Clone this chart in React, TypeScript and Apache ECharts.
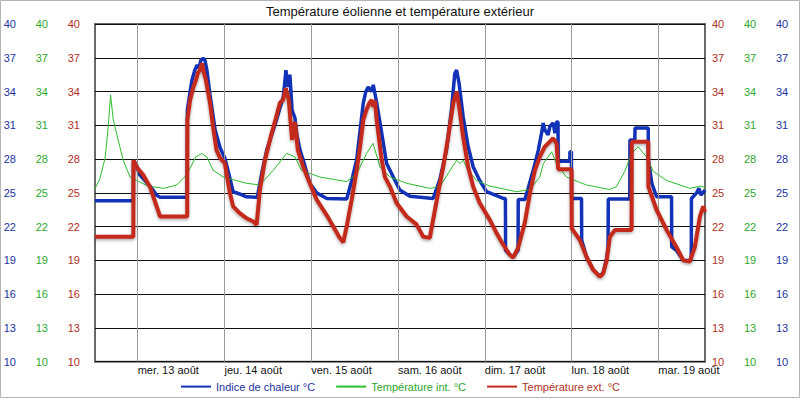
import React, { useEffect, useRef } from "react";
import * as echarts from "echarts";

const chartTitle = "Température éolienne et température extérieur";
const seriesNames = ["Indice de chaleur °C", "Température int. °C", "Température ext. °C"];
const dayLabels = ["mer. 13 août", "jeu. 14 août", "ven. 15 août", "sam. 16 août", "dim. 17 août", "lun. 18 août", "mar. 19 août"];
const dayStartHours = [0, 24, 48, 72, 96, 120, 144];
const hourMin = -11.8;
const hourMax = 156.9;
const tempMin = 10;
const tempMax = 40;
const tempStep = 3;

// [hours since 13 Aug 00:00, °C]
const heatIndex = [
  [-11.8, 24.3], [-1.2, 24.3], [-1.15, 27.9], [-0.3, 27.45], [0.6, 26.6], [3.4, 25.6], [5.25, 24.8], [6.2, 24.6],
  [13.7, 24.6], [13.75, 32.35], [14.5, 33.95], [15.0, 35.0], [15.8, 35.9], [16.4, 36.35], [16.95, 36.1], [17.5, 36.8],
  [18.1, 36.95], [18.6, 36.8], [19.15, 35.9], [20.0, 33.7], [21.4, 30.6], [22.8, 29.0], [24.1, 28.1], [25.5, 26.3],
  [26.4, 25.1], [28.2, 24.9], [30.1, 24.65], [33.1, 24.6], [34.3, 26.7], [35.7, 28.8], [36.6, 29.7], [38.4, 31.5],
  [39.35, 32.55], [40.3, 33.55], [41.0, 35.9], [41.6, 34.4], [42.1, 35.5], [42.7, 32.35], [43.5, 31.65], [44.05, 30.1],
  [44.9, 28.8], [45.8, 27.9], [47.6, 25.85], [49.5, 25.0], [52.3, 24.5], [57.8, 24.45], [59.2, 26.1], [60.55, 27.9],
  [61.0, 29.1], [62.4, 33.0], [63.1, 34.0], [63.75, 34.4], [64.7, 34.0], [65.15, 34.6], [66.1, 33.0], [67.5, 30.3],
  [68.85, 27.6], [70.7, 26.4], [72.5, 25.25], [75.3, 24.7], [81.7, 24.5], [83.6, 26.2], [85.4, 28.8], [86.8, 32.4],
  [87.7, 35.6], [88.2, 35.9], [88.9, 34.7], [90.0, 31.8], [91.4, 29.1], [92.8, 27.3], [94.6, 26.1], [96.5, 25.1],
  [101.1, 24.5], [101.7, 24.5], [101.75, 19.9], [102.9, 19.5], [103.85, 19.3], [105.2, 19.9], [105.25, 24.4], [107.1, 24.4],
  [108.0, 25.4], [109.4, 27.0], [110.8, 28.8], [111.7, 30.3], [112.15, 31.2], [112.6, 30.6], [113.5, 30.15], [114.0, 30.9],
  [114.9, 31.2], [115.4, 30.3], [115.85, 31.3], [116.25, 31.3], [116.3, 27.8], [119.5, 27.8], [119.55, 28.65], [119.95, 28.65],
  [120.0, 24.5], [122.75, 24.5], [122.8, 20.8], [124.15, 19.3], [126.0, 18.15], [127.8, 17.6], [128.75, 17.9], [129.7, 19.2],
  [130.1, 20.2], [130.15, 24.45], [136.1, 24.45], [136.15, 29.7], [137.5, 29.7], [137.55, 30.75], [141.2, 30.75], [141.25, 27.9],
  [142.2, 25.85], [143.5, 24.65], [147.65, 24.65], [147.7, 20.2], [149.0, 19.9], [150.9, 19.0], [153.1, 19.0], [153.15, 24.5],
  [154.6, 25.0], [155.2, 25.4], [155.75, 24.8], [156.9, 25.25],
];

const indoorTemp = [
  [-11.8, 25.4], [-10.5, 26.2], [-9.0, 28.1], [-8.1, 31.0], [-7.5, 33.7], [-6.75, 31.5], [-5.4, 29.7], [-4.0, 27.9],
  [-2.1, 26.4], [-0.3, 26.1], [2.9, 25.6], [7.1, 25.4], [10.8, 25.7], [13.55, 26.6], [16.1, 28.2], [17.7, 28.5],
  [19.1, 28.2], [20.9, 27.0], [23.7, 26.4], [30.1, 25.85], [33.8, 25.7], [37.5, 27.0], [41.2, 28.5], [43.5, 28.2],
  [45.3, 27.0], [50.4, 26.4], [57.8, 26.0], [60.6, 26.7], [63.3, 28.5], [65.1, 29.4], [67.0, 27.3], [69.8, 26.4],
  [74.4, 25.85], [80.8, 25.4], [83.6, 25.55], [86.4, 27.0], [88.2, 27.9], [89.1, 27.6], [90.0, 27.9], [91.4, 27.0],
  [93.7, 26.1], [97.4, 25.6], [104.8, 25.1], [108.5, 25.3], [111.2, 26.4], [112.2, 27.6], [114.5, 28.65], [115.9, 27.5],
  [118.6, 26.4], [124.1, 25.7], [130.5, 25.3], [132.4, 25.55], [134.7, 26.9], [136.6, 28.5], [138.4, 29.1], [140.7, 28.2],
  [142.6, 26.9], [146.3, 26.1], [152.7, 25.4], [155.5, 25.6], [156.9, 25.5],
];

const outdoorTemp = [
  [-11.8, 21.1], [-1.2, 21.1], [-1.15, 27.9], [-0.3, 27.3], [1.5, 26.6], [3.4, 25.55], [5.25, 23.8], [6.2, 22.9],
  [13.7, 22.9], [13.75, 31.5], [14.5, 33.25], [15.3, 34.3], [16.1, 35.0], [16.7, 35.7], [17.2, 35.9], [17.8, 36.5],
  [18.3, 35.7], [18.9, 35.0], [20.0, 33.0], [20.8, 31.0], [21.8, 28.8], [22.8, 28.1], [24.1, 27.65], [25.5, 25.0],
  [26.4, 23.8], [28.2, 23.2], [30.1, 22.75], [32.0, 22.45], [32.9, 22.15], [33.8, 25.25], [35.2, 27.9], [37.05, 30.3],
  [38.2, 31.6], [39.35, 33.0], [40.2, 33.25], [41.0, 34.3], [41.8, 33.25], [42.7, 29.7], [43.5, 31.3], [44.3, 28.8],
  [45.8, 27.3], [47.6, 25.85], [49.5, 24.4], [52.3, 23.0], [54.1, 22.0], [55.9, 21.0], [56.85, 20.6], [57.8, 22.0],
  [59.2, 24.4], [60.55, 27.0], [61.5, 29.1], [62.4, 31.5], [63.3, 32.4], [63.95, 32.9], [64.7, 33.25], [65.15, 32.65],
  [65.6, 33.2], [66.1, 31.5], [67.5, 27.9], [68.4, 26.4], [69.8, 25.55], [71.6, 24.1], [74.4, 22.9], [77.1, 22.2],
  [79.0, 21.1], [80.8, 21.0], [81.7, 22.6], [83.1, 25.0], [84.5, 27.3], [85.9, 30.0], [87.3, 33.0], [88.2, 34.0],
  [88.9, 32.65], [90.0, 30.0], [91.4, 27.3], [92.8, 25.55], [94.6, 24.1], [97.4, 22.6], [99.3, 21.4], [101.1, 20.4],
  [102.9, 19.5], [103.85, 19.25], [105.2, 20.1], [107.1, 22.4], [108.5, 25.0], [109.85, 27.0], [111.2, 28.2], [112.6, 29.1],
  [114.0, 29.55], [114.9, 29.85], [115.85, 29.4], [116.3, 27.1], [120.0, 27.1], [120.05, 21.85], [122.3, 20.8], [124.15, 19.3],
  [126.0, 18.15], [127.8, 17.55], [128.75, 17.85], [129.7, 19.0], [130.6, 21.1], [132.0, 21.7], [136.6, 21.7], [136.65, 29.55],
  [141.2, 29.55], [141.25, 25.55], [143.5, 23.5], [146.3, 21.7], [149.0, 20.2], [150.9, 19.0], [152.7, 18.9], [154.1, 20.2],
  [155.5, 22.9], [156.4, 23.8], [156.9, 23.3],
];

const FONT = "'Liberation Sans', Arial, sans-serif";
const BLUE = "#1232b8";
const GREEN = "#2dbd2d";
const RED = "#c42a1c";
const BLUE_TXT = "#22339e";
const GREEN_TXT = "#2ea82e";
const RED_TXT = "#b0301e";

const yAxisDefs = [
  { position: "left", margin: 79, color: BLUE_TXT },
  { position: "left", margin: 47, color: GREEN_TXT },
  { position: "left", margin: 15, color: RED_TXT },
  { position: "right", margin: 7, color: RED_TXT },
  { position: "right", margin: 39, color: GREEN_TXT },
  { position: "right", margin: 71, color: BLUE_TXT },
];

export default function App() {
  const ref = useRef<HTMLDivElement>(null);

  useEffect(() => {
    if (!ref.current) return;
    const chart = echarts.init(ref.current, null, { renderer: "svg" });
    const option: any = {
      animation: false,
      backgroundColor: "#ffffff",
      textStyle: { fontFamily: FONT },
      title: {
        text: chartTitle,
        left: "center",
        top: 0,
        padding: [5, 0, 0, 0],
        textStyle: { fontSize: 13, fontWeight: "normal", color: "#111", fontFamily: FONT },
      },
      legend: {
        left: "center",
        top: 376,
        itemWidth: 30,
        itemHeight: 14,
        itemGap: 20,
        itemStyle: { opacity: 0 },
        textStyle: { fontSize: 11, fontFamily: FONT },
        data: [
          { name: seriesNames[0], textStyle: { color: BLUE_TXT } },
          { name: seriesNames[1], textStyle: { color: GREEN_TXT } },
          { name: seriesNames[2], textStyle: { color: RED_TXT } },
        ],
      },
      grid: {
        left: 95,
        right: 95,
        top: 24,
        bottom: 36.3,
        show: true,
        borderColor: "#6a6a6a",
        borderWidth: 2,
        outerBoundsMode: "none",
      },
      graphic: [
        {
          type: "rect",
          shape: { x: 0.5, y: 0.5, width: 799, height: 397 },
          style: { fill: "none", stroke: "#b4b4b4", lineWidth: 1 },
          silent: true,
        },
      ],
      xAxis: {
        type: "value",
        min: hourMin,
        max: hourMax,
        axisLine: { show: false },
        axisTick: { show: false },
        splitLine: { show: false },
        axisLabel: {
          customValues: dayStartHours,
          formatter: (v: number) => dayLabels[dayStartHours.indexOf(Math.round(v))] ?? "",
          align: "left",
          margin: 3,
          fontSize: 11,
          color: "#111",
          fontFamily: FONT,
        },
      },
      yAxis: yAxisDefs.map((d, i) => ({
        type: "value",
        min: tempMin,
        max: tempMax,
        interval: tempStep,
        position: d.position,
        offset: 0,
        axisLine: { show: false },
        axisTick: { show: false },
        splitLine: { show: i === 0, lineStyle: { color: "#111", width: 1 } },
        axisLabel: { margin: d.margin, color: d.color, fontSize: 11, fontFamily: FONT },
      })),
      series: [
        {
          type: "line",
          data: [],
          z: 1,
          silent: true,
          markLine: {
            silent: true,
            symbol: ["none", "none"],
            label: { show: false },
            lineStyle: { color: "#9a9a9a", width: 1, type: "solid" },
            data: dayStartHours.map((h) => ({ xAxis: h })),
          },
        },
        {
          name: seriesNames[0],
          type: "line",
          data: heatIndex,
          symbol: "none",
          showSymbol: false,
          z: 3,
          itemStyle: { color: BLUE },
          lineStyle: { color: BLUE, width: 3.5 },
        },
        {
          name: seriesNames[1],
          type: "line",
          data: indoorTemp,
          symbol: "none",
          showSymbol: false,
          z: 4,
          itemStyle: { color: GREEN },
          lineStyle: { color: GREEN, width: 1 },
        },
        {
          name: seriesNames[2],
          type: "line",
          data: outdoorTemp,
          symbol: "none",
          showSymbol: false,
          z: 5,
          itemStyle: { color: RED },
          lineStyle: {
            color: RED,
            width: 4,
            shadowColor: "rgba(0,0,0,0.35)",
            shadowBlur: 3,
            shadowOffsetY: 1.5,
          },
        },
      ],
    };
    chart.setOption(option);
    return () => chart.dispose();
  }, []);

  return (
    <div
      ref={ref}
      style={{ position: "fixed", left: 0, top: 0, width: 800, height: 398 }}
    />
  );
}
